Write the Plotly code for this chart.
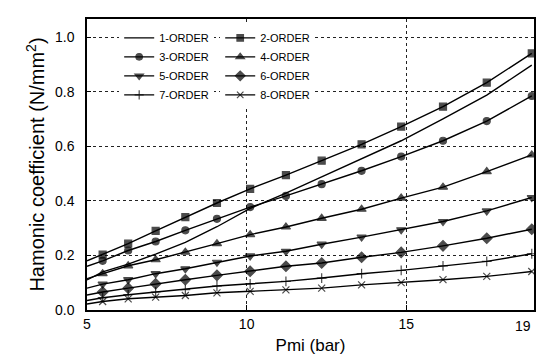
import plotly.graph_objects as go

# ---- data ----
pmi = [5.0, 5.49, 6.29, 7.15, 8.08, 9.07, 10.11, 11.23, 12.35, 13.6, 14.84, 16.15, 17.52, 18.93]

order1 = [0.110, 0.140, 0.168, 0.205, 0.248, 0.305, 0.372, 0.428, 0.488, 0.553, 0.620, 0.700, 0.787, 0.897]
order2 = [0.180, 0.203, 0.243, 0.290, 0.340, 0.392, 0.444, 0.494, 0.547, 0.607, 0.672, 0.745, 0.833, 0.940]
order3 = [0.160, 0.180, 0.218, 0.251, 0.292, 0.334, 0.377, 0.418, 0.461, 0.510, 0.562, 0.620, 0.692, 0.784]
order4 = [0.115, 0.133, 0.162, 0.184, 0.212, 0.243, 0.276, 0.304, 0.336, 0.369, 0.410, 0.450, 0.507, 0.568]
order5 = [0.080, 0.095, 0.111, 0.133, 0.151, 0.175, 0.198, 0.215, 0.241, 0.267, 0.294, 0.324, 0.363, 0.412]
order6 = [0.055, 0.066, 0.080, 0.096, 0.111, 0.127, 0.142, 0.160, 0.172, 0.193, 0.211, 0.235, 0.263, 0.296]
order7 = [0.035, 0.045, 0.056, 0.066, 0.075, 0.088, 0.096, 0.105, 0.117, 0.133, 0.145, 0.162, 0.178, 0.206]
order8 = [0.022, 0.031, 0.041, 0.047, 0.053, 0.063, 0.068, 0.074, 0.080, 0.092, 0.100, 0.111, 0.123, 0.141]

names = ["1-ORDER", "2-ORDER", "3-ORDER", "4-ORDER", "5-ORDER", "6-ORDER", "7-ORDER", "8-ORDER"]
series = [order1, order2, order3, order4, order5, order6, order7, order8]

x_ticks = [5, 10, 15]
y_ticks = [0.0, 0.2, 0.4, 0.6, 0.8, 1.0]

# ---- styles ----
symbols = [None, "square", "circle", "triangle-up", "triangle-down", "diamond", "cross-thin", "x-thin"]
sizes = [0, 7, 7, 8, 8, 8, 7, 7]
legends = ["legend", "legend2"]

FONT = "Liberation Sans, Arial, Helvetica, sans-serif"

fig = go.Figure()
for i, (nm, ys) in enumerate(zip(names, series)):
    sym = symbols[i]
    kw = dict(x=pmi, y=ys, name=nm, legend=legends[i % 2], cliponaxis=False,
              line=dict(color="black", width=1.4))
    if sym is None:
        kw["mode"] = "lines"
    else:
        msize = [0] + [sizes[i]] * (len(pmi) - 1)
        kw["mode"] = "lines+markers"
        kw["marker"] = dict(symbol=sym, size=msize, color="black",
                            line=dict(color="black", width=1.2))
    fig.add_trace(go.Scatter(**kw))

fig.update_layout(
    width=536, height=364,
    margin=dict(l=87, r=2, t=19, b=54),
    paper_bgcolor="white", plot_bgcolor="white",
    font=dict(family=FONT, color="black", size=14),
    showlegend=True,
    legend=dict(x=0.072, y=0.985, xanchor="left", yanchor="top",
                bgcolor="white", borderwidth=0, itemwidth=30,
                font=dict(size=11, family=FONT), tracegroupgap=0),
    legend2=dict(x=0.298, y=0.985, xanchor="left", yanchor="top",
                 bgcolor="white", borderwidth=0, itemwidth=30,
                 font=dict(size=11, family=FONT), tracegroupgap=0),
)

fig.update_xaxes(
    range=[5, 19], tickvals=x_ticks, ticktext=[str(v) for v in x_ticks],
    showline=True, linecolor="black", linewidth=1.5, mirror=True,
    ticks="inside", ticklen=5, tickcolor="black",
    showgrid=True, gridcolor="#222", griddash="dot", gridwidth=1,
    zeroline=False, tickfont=dict(size=14), automargin=False,
    title=dict(text="Pmi (bar)", font=dict(size=17), standoff=9),
)
fig.update_yaxes(
    range=[0, 1.066], tickvals=y_ticks, ticktext=[f"{v:.1f}" for v in y_ticks],
    showline=True, linecolor="black", linewidth=1.5, mirror=True,
    ticks="inside", ticklen=4, tickcolor="black",
    showgrid=True, gridcolor="#222", griddash="dot", gridwidth=1,
    zeroline=False, tickfont=dict(size=14), ticklabelstandoff=8, automargin=False,
    title=dict(text="Hamonic coefficient (N/mm<sup>2</sup>)", font=dict(size=20), standoff=5),
)

fig.add_annotation(x=19, y=0, xref="x", yref="y", text="19", showarrow=False,
                   xanchor="right", yanchor="top", xshift=-1, yshift=-6,
                   font=dict(size=14, family=FONT))

fig.write_html("out.html", config={"displayModeBar": False},
               post_script="document.body.style.margin='0';")
